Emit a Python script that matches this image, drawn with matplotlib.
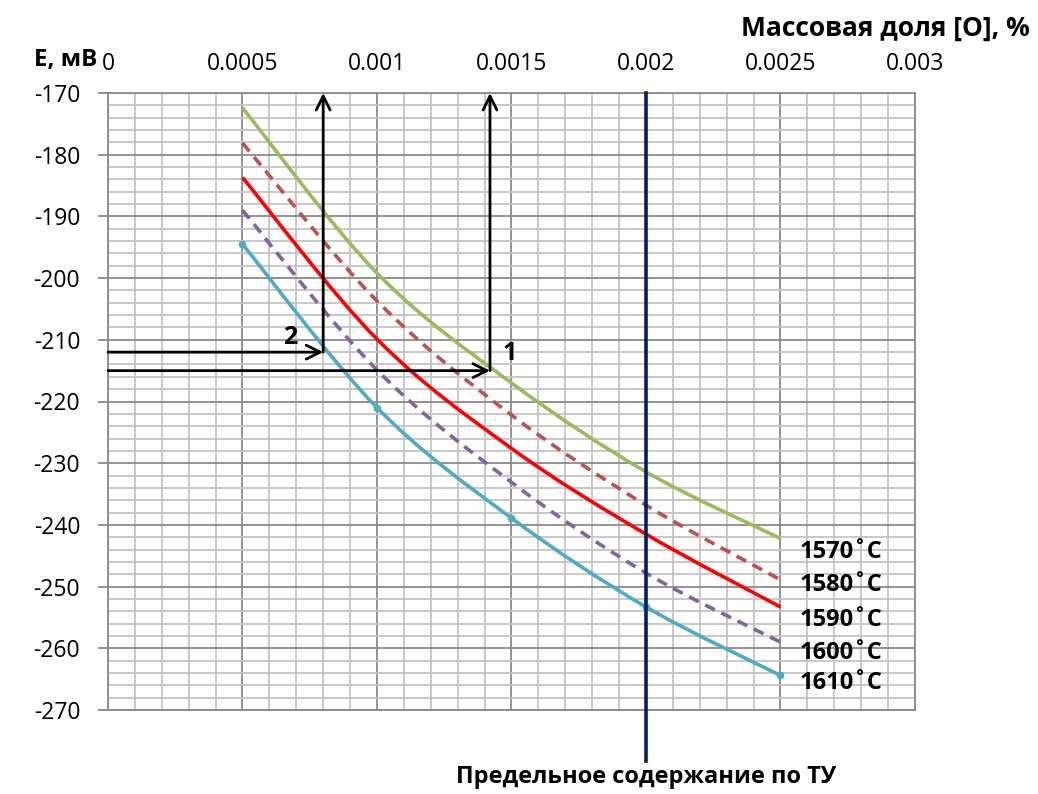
import matplotlib
matplotlib.use("Agg")
import matplotlib.pyplot as plt
from matplotlib.path import Path
from matplotlib.patches import PathPatch
from matplotlib.ticker import MultipleLocator, FixedLocator
import numpy as np

plt.rcParams['font.family'] = ['Open Sans', 'DejaVu Sans']

# Data
x_vals = [0.0005, 0.001, 0.0015, 0.002, 0.0025]
e_1570 = [-172.4, -199.2, -217.0, -231.4, -242.2]
e_1580 = [-178.1, -203.7, -222.2, -236.8, -248.9]
e_1590 = [-183.7, -209.9, -227.6, -241.5, -253.3]
e_1600 = [-189.0, -214.9, -233.1, -247.8, -259.0]
e_1610 = [-194.5, -221.0, -238.9, -253.3, -264.4]
series_labels = ['1570˚C', '1580˚C', '1590˚C', '1600˚C', '1610˚C']
x_ticks = [0, 0.0005, 0.001, 0.0015, 0.002, 0.0025, 0.003]
x_tick_labels = ['0', '0.0005', '0.001', '0.0015', '0.002', '0.0025', '0.003']
y_ticks = [-170, -180, -190, -200, -210, -220, -230, -240, -250, -260, -270]
limit_x = 0.002
arrow1 = (0.00142, -215.0)
arrow2 = (0.0008, -212.0)

fig = plt.figure(figsize=(10.38, 7.94), dpi=100)
ax = fig.add_axes([108/1038, 1-710/794, (915-108)/1038, (710-93)/794])
ax.set_xlim(0, 0.003)
ax.set_ylim(-270, -170)

# grid
ax.xaxis.set_major_locator(FixedLocator(x_ticks))
ax.xaxis.set_minor_locator(MultipleLocator(0.0001))
ax.yaxis.set_major_locator(FixedLocator(y_ticks))
ax.yaxis.set_minor_locator(MultipleLocator(2))
ax.grid(which='minor', color='#c4c4c4', lw=1.3, zorder=0)
ax.grid(which='major', color='#8a8a8a', lw=1.3, zorder=0)
ax.set_axisbelow(True)
for s in ax.spines.values():
    s.set_color('#8a8a8a')
    s.set_linewidth(1.3)

ax.xaxis.tick_top()
ax.set_xticklabels(x_tick_labels, fontsize=16.5)
ax.tick_params(axis='x', which='both', length=0, pad=12)
ax.set_yticklabels([str(v) for v in y_ticks], fontsize=16.5)
ax.tick_params(axis='y', which='major', length=7, color='#8a8a8a', width=1.3, pad=13)
ax.tick_params(axis='y', which='minor', length=0)


def smooth_path(xs, ys, t=1/6):
    pts = np.column_stack([xs, ys])
    verts = [pts[0]]
    codes = [Path.MOVETO]
    n = len(pts)
    for i in range(n - 1):
        p0 = pts[i - 1] if i > 0 else pts[i]
        p1 = pts[i]
        p2 = pts[i + 1]
        p3 = pts[i + 2] if i + 2 < n else pts[i + 1]
        c1 = p1 + (p2 - p0) * t
        c2 = p2 - (p3 - p1) * t
        verts += [c1, c2, p2]
        codes += [Path.CURVE4] * 3
    return Path(verts, codes)

styles = [
    (e_1570, '#9BBB59', 'solid'),
    (e_1580, '#C0504D', (0, (3, 2))),
    (e_1590, '#FF0000', 'solid'),
    (e_1600, '#8064A2', (0, (3, 2))),
    (e_1610, '#4BACC6', 'solid'),
]
for ys, c, ls in styles:
    patch = PathPatch(smooth_path(x_vals, ys), facecolor='none', edgecolor=c,
                      lw=2.6, linestyle=ls, zorder=3, capstyle='butt')
    ax.add_patch(patch)
ax.plot(x_vals, e_1610, linestyle='none', marker='o', ms=4.5, color='#4BACC6', zorder=4)

# limit line
ax.plot([limit_x, limit_x], [-170, -278.2], color='#002060', lw=2.6, clip_on=False, zorder=5)
ax.text(limit_x, -280.8, 'Предельное содержание по ТУ', ha='center', va='center',
        fontsize=17, fontweight='bold', clip_on=False)

# arrows
aprops = dict(arrowstyle='->,head_length=1.0,head_width=0.5', color='black', lw=2,
              shrinkA=0, shrinkB=0)
for (ax_x, ax_y) in [arrow1, arrow2]:
    ax.annotate('', xy=(ax_x, ax_y), xytext=(0, ax_y), arrowprops=aprops, zorder=6)
    ax.annotate('', xy=(ax_x, -170), xytext=(ax_x, ax_y), arrowprops=aprops, zorder=6,
                annotation_clip=False)
ax.text(0.001494, -212.2, '1', fontsize=18, fontweight='bold', ha='center', va='center')
ax.text(0.000677, -209.7, '2', fontsize=18, fontweight='bold', ha='center', va='center')

# series labels
label_y = [-244.4, -249.8, -255.4, -260.8, -265.6]
for lab, ly in zip(series_labels, label_y):
    ax.text(0.00257, ly, lab, fontsize=17, fontweight='bold', ha='left', va='center')

fig.text(1030/1038, 1-28/794, 'Массовая доля [O], %', fontsize=19, fontweight='bold',
         ha='right', va='center')
fig.text(66/1038, 1-60/794, 'E, мВ', fontsize=17.5, fontweight='bold', ha='center', va='center')

fig.savefig('out.png', dpi=100)
